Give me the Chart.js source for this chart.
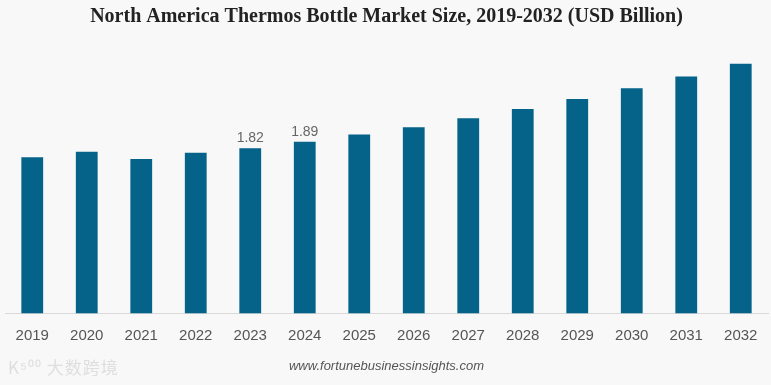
<!DOCTYPE html>
<html>
<head>
<meta charset="utf-8">
<script src="https://cdn.jsdelivr.net/npm/chart.js@4"></script>
<style>
  html, body { margin: 0; padding: 0; background: #f8f8f8; }
  #wrap { position: relative; width: 771px; height: 385px; }
  #watermark {
    position: absolute; left: 8px; top: 354px;
    font-family: "Noto Sans CJK SC", sans-serif; font-size: 17px;
    color: #dedede; letter-spacing: 1px;
  }
</style>
</head>
<body>
<div id="wrap">
  <canvas id="chart" width="771" height="385"></canvas>
  <div id="watermark">K⁵⁰⁰ 大数跨境</div>
</div>
<script>
// data
const years = ['2019', '2020', '2021', '2022', '2023', '2024', '2025', '2026', '2027', '2028', '2029', '2030', '2031', '2032'];
const marketSize = [1.72, 1.78, 1.70, 1.77, 1.82, 1.89, 1.97, 2.05, 2.15, 2.25, 2.36, 2.48, 2.61, 2.75];
const labelledYears = ['2023', '2024'];

// only a few bars carry a value label
const valueLabels = {
    id: 'valueLabels',
    afterDatasetsDraw(chart) {
        const ctx = chart.ctx;
        const meta = chart.getDatasetMeta(0);
        ctx.save();
        ctx.font = '14px "Liberation Sans", Arial, sans-serif';
        ctx.fillStyle = '#666';
        ctx.textAlign = 'center';
        ctx.textBaseline = 'bottom';
        meta.data.forEach((bar, i) => {
            if (!labelledYears.includes(years[i])) return;
            ctx.fillText(marketSize[i].toFixed(2), bar.x, bar.y - 3);
        });
        ctx.restore();
    }
};

const ctx = document.getElementById('chart').getContext('2d');
new Chart(ctx, {
    type: 'bar',
    data: {
        labels: years,
        datasets: [{
            data: marketSize,
            backgroundColor: '#056389',
            barPercentage: 0.4,
            categoryPercentage: 1.0
        }]
    },
    options: {
        responsive: false,
        animation: false,
        layout: { padding: { left: 5, right: 3, top: 0, bottom: 4 } },
        plugins: {
            legend: { display: false },
            tooltip: { enabled: false },
            title: {
                display: true,
                text: 'North America Thermos Bottle Market Size, 2019-2032 (USD Billion)',
                color: '#222',
                font: { family: '"Liberation Serif", "Times New Roman", serif', size: 20, weight: 'bold' },
                padding: { top: 5, bottom: 12 }
            },
            subtitle: {
                display: true,
                position: 'bottom',
                text: 'www.fortunebusinessinsights.com',
                color: '#555',
                font: { family: '"Liberation Sans", Arial, sans-serif', size: 13, style: 'italic' },
                padding: { top: 9, bottom: 7 }
            }
        },
        scales: {
            x: {
                grid: { display: false },
                border: { display: true, color: '#d9d9d9' },
                ticks: {
                    color: '#555',
                    padding: 5,
                    font: { family: '"Liberation Sans", Arial, sans-serif', size: 15 }
                }
            },
            y: {
                display: false,
                min: 0,
                max: 3
            }
        }
    },
    plugins: [valueLabels]
});
</script>
</body>
</html>
